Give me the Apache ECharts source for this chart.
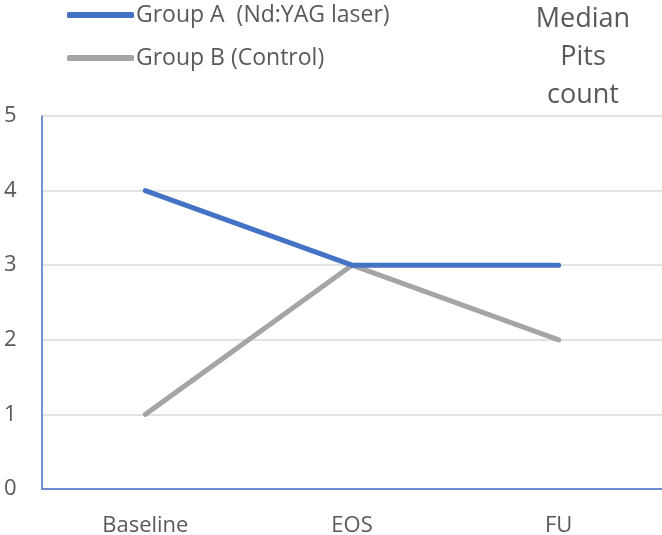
<!DOCTYPE html>
<html><head><meta charset="utf-8">
<script src="https://cdn.jsdelivr.net/npm/echarts@6/dist/echarts.min.js"></script>
<style>html,body{margin:0;padding:0;background:#fff}#c{width:662px;height:535px}</style>
</head><body><div id="c"></div>
<script>
const categories = ['Baseline', 'EOS', 'FU'];
const groupA = [4, 3, 3];
const groupB = [1, 3, 2];
const seriesNames = ['Group A  (Nd:YAG laser)', 'Group B (Control)'];
const yTicks = [0, 1, 2, 3, 4, 5];
const titleText = 'Median\nPits\ncount';

const chart = echarts.init(document.getElementById('c'), null, {renderer: 'canvas'});
const font = 'Open Sans';
chart.setOption({
  animation: false,
  title: {
    text: titleText, left: 578, top: -5, textAlign: 'center',
    textStyle: {fontFamily: font, fontSize: 27, fontWeight: 'normal', color: '#595959', lineHeight: 38, align: 'center'}
  },
  legend: {
    orient: 'vertical', left: 62, top: -2, itemGap: 19,
    icon: 'roundRect', itemWidth: 67, itemHeight: 6,
    textStyle: {fontFamily: font, fontSize: 23, lineHeight: 24, color: '#595959', padding: [0, 0, 0, -3]},
    data: seriesNames
  },
  grid: {left: 42, right: 0, top: 116, bottom: 46, containLabel: false, outerBoundsMode: 'none'},
  xAxis: {
    type: 'category', data: categories, boundaryGap: true,
    axisLine: {lineStyle: {color: '#4472C4', width: 1.5}},
    axisTick: {show: false},
    axisLabel: {fontFamily: font, fontSize: 22, color: '#595959', margin: 26}
  },
  yAxis: {
    type: 'value', min: yTicks[0], max: yTicks[yTicks.length - 1], interval: 1,
    axisLine: {show: true, lineStyle: {color: '#4472C4', width: 1.5}},
    axisTick: {show: false},
    splitLine: {lineStyle: {color: '#d9d9d9', width: 1.5}},
    axisLabel: {fontFamily: font, fontSize: 22, color: '#595959', align: 'left', margin: 38}
  },
  series: [
    {name: seriesNames[0], type: 'line', data: groupA, symbol: 'none',
     lineStyle: {color: '#4472C4', width: 5, cap: 'round'}, itemStyle: {color: '#4472C4'}, z: 3},
    {name: seriesNames[1], type: 'line', data: groupB, symbol: 'none',
     lineStyle: {color: '#A5A5A5', width: 5, cap: 'round'}, itemStyle: {color: '#A5A5A5'}, z: 2}
  ]
});
</script></body></html>
